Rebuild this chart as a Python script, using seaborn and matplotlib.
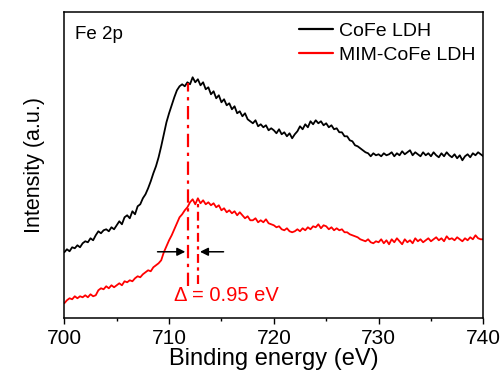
import numpy as np
import pandas as pd
import matplotlib
matplotlib.use("Agg")
import matplotlib.pyplot as plt
from matplotlib.ticker import MultipleLocator
import seaborn as sns

# Binding energy grid (eV), 0.25 eV steps
energy = np.linspace(700, 740, 161)

# CoFe LDH (offset, arbitrary units)
cofe = [
    66, 69, 67, 71,  70, 73, 71, 75,  77, 76, 80, 78,  83, 87, 85, 88,
    89, 87, 91, 89,  93, 97, 94, 101, 103, 100, 107, 104, 112, 114, 120, 124,
    130, 137, 145, 152, 161, 172, 184, 196, 205, 213, 221, 228, 232, 234, 232, 236,
    234, 241, 236, 239, 233, 236, 229, 231, 224, 227, 220, 223, 216, 219, 213, 215,
    209, 212, 205, 207, 202, 205, 199, 197, 195, 198, 192, 194, 191, 193, 188, 190,
    188, 185, 189, 184, 186, 182, 185, 180, 184, 187, 192, 189, 194, 191, 197, 194,
    198, 195, 197, 193, 195, 191, 193, 189, 190, 186, 186, 182, 182, 178, 177, 173,
    172, 170, 168, 166, 165, 162, 165, 163, 164, 162, 165, 163, 164, 166, 162, 165,
    163, 167, 164, 166, 168, 163, 166, 164, 162, 166, 163, 165, 162, 166, 163, 161,
    165, 162, 166, 163, 161, 164, 160, 163, 158, 162, 164, 161, 165, 163, 166, 164,
    162,
]

# MIM-CoFe LDH (arbitrary units)
mim = [
    15, 18, 20, 19,  22, 20, 22, 21,  23, 21, 24, 22,  23, 28, 30, 29,
    32, 30, 33, 31,  33, 35, 33, 37,  36, 38, 37, 40,  42, 41, 44, 46,
    48, 47, 51, 53,  55, 58, 66, 72,  78, 83, 89, 95,  101, 104, 108, 111,
    116, 119, 114, 120, 115, 118, 114, 116, 113, 115, 111, 113, 108, 110, 106, 108,
    105, 107, 103, 106, 103, 100, 102, 98, 98, 100, 96, 98, 96, 99, 95, 94,
    93, 91, 92, 89, 88, 90, 87, 86, 87, 89, 87, 90, 88, 91, 89, 92,
    91, 94, 90, 93, 92, 89, 91, 88, 90, 88, 89, 86, 86, 84, 83, 82,
    81, 79, 78, 77, 79, 76, 75, 77, 76, 79, 75, 78, 74, 79, 76, 80,
    77, 74, 79, 76, 78, 75, 80, 77, 79, 76, 78, 80, 77, 79, 81, 78,
    80, 77, 82, 79, 80, 78, 81, 79, 77, 80, 78, 81, 79, 83, 80, 79,
    79,
]

series_names = ["CoFe LDH", "MIM-CoFe LDH"]
colors = ["black", "red"]

# Peak positions and annotation
peak_cofe, peak_mim = 711.84, 712.72
delta_label = "\u0394 = 0.95 eV"

df = pd.concat([
    pd.DataFrame({"energy": energy, "intensity": cofe, "sample": series_names[0]}),
    pd.DataFrame({"energy": energy, "intensity": mim, "sample": series_names[1]}),
])

sns.set_style("ticks")
plt.rcParams["font.family"] = ["Liberation Sans", "DejaVu Sans"]
plt.rcParams["text.color"] = "black"
plt.rcParams["axes.labelcolor"] = "black"
plt.rcParams["xtick.color"] = "black"
plt.rcParams["ytick.color"] = "black"

fig = plt.figure(figsize=(5.04, 3.83), dpi=100)
ax = fig.add_axes([0.1276, 0.169, 0.8314, 0.8005])

sns.lineplot(data=df, x="energy", y="intensity", hue="sample",
             palette=dict(zip(series_names, colors)), linewidth=1.3,
             ax=ax, legend=True, estimator=None, sort=False)

# peak markers
ax.plot([peak_cofe, peak_cofe], [32, 235], color="red", lw=1.6,
        linestyle=(0, (6, 2.5, 1.5, 2.5)))
ax.plot([peak_mim, peak_mim], [34, 116], color="red", lw=1.6,
        linestyle=(0, (4, 2, 1.5, 2)))

# arrows
ax.annotate("", xy=(711.55, 66.5), xytext=(708.9, 66.5),
            arrowprops=dict(arrowstyle="-|>", color="black", lw=1.1,
                            mutation_scale=12, shrinkA=0, shrinkB=0))
ax.annotate("", xy=(712.95, 66.5), xytext=(715.2, 66.5),
            arrowprops=dict(arrowstyle="-|>", color="black", lw=1.1,
                            mutation_scale=12, shrinkA=0, shrinkB=0))

ax.text(710.45, 22.5, delta_label, color="red", fontsize=14.5,
        ha="left", va="center")
ax.text(0.026, 0.925, "Fe 2p", transform=ax.transAxes, fontsize=13.5,
        ha="left", va="center", color="black")

ax.set_xlim(700, 740)
ax.set_ylim(0, 306.6)
ax.xaxis.set_major_locator(MultipleLocator(10))
ax.xaxis.set_minor_locator(MultipleLocator(5))
ax.set_yticks([])
ax.tick_params(axis="x", which="major", direction="out", length=4, width=1,
               labelsize=15, pad=4, colors="black")
ax.tick_params(axis="x", which="minor", direction="out", length=2.5, width=1)
for s in ax.spines.values():
    s.set_visible(True)
    s.set_linewidth(1.1)
    s.set_color("black")

ax.set_xlabel("Binding energy (eV)", fontsize=17, labelpad=0)
ax.set_ylabel("Intensity (a.u.)", fontsize=15.5, labelpad=14)

leg = ax.legend(loc="upper right", frameon=False, fontsize=14,
                handlelength=1.75, handletextpad=0.3, labelspacing=0.3,
                borderaxespad=0.0, bbox_to_anchor=(1.0, 0.99))
for line in leg.get_lines():
    line.set_linewidth(1.6)
for t in leg.get_texts():
    t.set_color("black")

fig.savefig("out.png", dpi=100)
